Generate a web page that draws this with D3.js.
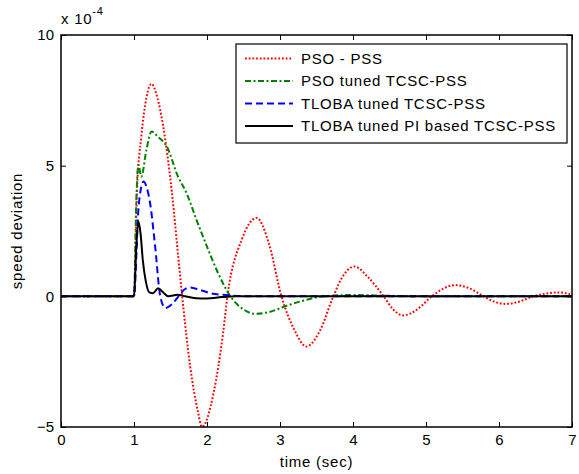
<!DOCTYPE html>
<html>
<head>
<meta charset="utf-8">
<script src="https://cdn.jsdelivr.net/npm/d3@7"></script>
<style>
  body { margin: 0; background: #fff; }
  text { font-family: "Liberation Sans", Arial, sans-serif; }
</style>
</head>
<body>
<div id="chart"></div>
<script>
// values are in units of 1e-4 (see the "x 10^-4" multiplier)
const xTicks = [0, 1, 2, 3, 4, 5, 6, 7]
const yTicks = [-5, 0, 5, 10]

const psoT = [0, 1.0, 1.04, 1.1, 1.17, 1.24, 1.32, 1.4, 1.52, 1.61, 1.66, 1.77, 1.88, 1.93, 2.09, 2.22, 2.28, 2.48, 2.68, 2.85, 3.02, 3.2, 3.36, 3.55, 3.73, 3.88, 4.02, 4.2, 4.42, 4.55, 4.69, 4.88, 5.08, 5.24, 5.4, 5.6, 5.79, 5.93, 6.08, 6.28, 6.47, 6.64, 6.81, 7.0]
const psoV = [0, 0, 4.0, 6.1, 7.6, 8.13, 7.6, 6.5, 3.95, 1.4, 0, -2.69, -4.47, -5.0, -3.7, -1.41, 0, 2.2, 3.0, 2.0, 0, -1.3, -1.92, -1.3, 0, 0.85, 1.14, 0.75, 0, -0.5, -0.73, -0.5, 0, 0.3, 0.43, 0.3, 0, -0.2, -0.29, -0.2, 0, 0.1, 0.15, 0.07]

const psoTcscT = [0, 1.0, 1.03, 1.06, 1.1, 1.17, 1.24, 1.33, 1.45, 1.6, 1.72, 1.86, 2.0, 2.15, 2.32, 2.5, 2.66, 2.85, 3.1, 3.3, 3.6, 4.0, 4.5, 5.0, 7.0]
const psoTcscV = [0, 0, 3.5, 5.03, 4.58, 5.6, 6.31, 6.1, 5.73, 4.6, 3.95, 2.9, 1.9, 0.9, 0, -0.5, -0.67, -0.6, -0.35, -0.18, 0, 0.05, 0.02, 0, 0]

const tlobaT = [0, 1.0, 1.06, 1.1, 1.13, 1.17, 1.22, 1.29, 1.36, 1.43, 1.52, 1.61, 1.7, 1.77, 1.9, 2.05, 2.3, 2.6, 7.0]
const tlobaV = [0, 0, 3.3, 4.2, 4.39, 4.2, 3.57, 1.9, 0, -0.45, -0.3, 0, 0.28, 0.34, 0.25, 0.12, 0.04, 0, 0]

const tlobaPiT = [0, 1.0, 1.03, 1.06, 1.09, 1.12, 1.16, 1.21, 1.26, 1.33, 1.4, 1.47, 1.6, 1.7, 1.85, 2.0, 2.2, 2.4, 7.0]
const tlobaPiV = [0, 0, 1.8, 2.86, 2.4, 1.4, 0.6, 0.15, 0.12, 0.31, 0.15, 0, 0.06, 0, -0.07, -0.08, -0.03, 0, 0]

const seriesNames = ["PSO - PSS", "PSO tuned TCSC-PSS", "TLOBA tuned TCSC-PSS", "TLOBA tuned PI based TCSC-PSS"]
const seriesColors = ["#ff0000", "#008000", "#0000ff", "#000000"]
const seriesDash = ["1.8,1.9", "6,2.5,2,2.5", "7,4", null]

const series = [
  { t: psoT, v: psoV },
  { t: psoTcscT, v: psoTcscV },
  { t: tlobaT, v: tlobaV },
  { t: tlobaPiT, v: tlobaPiV }
].map((s, i) => ({
  name: seriesNames[i],
  color: seriesColors[i],
  dash: seriesDash[i],
  points: s.t.map((t, j) => ({ t: t, v: s.v[j] }))
}))

const margin = { top: 35, right: 7, bottom: 47, left: 61 }
const W = 579, H = 474
const width = W - margin.left - margin.right
const height = H - margin.top - margin.bottom

const x = d3.scaleLinear().domain([0, 7]).range([0, width])
const y = d3.scaleLinear().domain([-5, 10]).range([height, 0])

const svg = d3.select("#chart").append("svg")
  .attr("width", W)
  .attr("height", H)

const g = svg.append("g")
  .attr("transform", "translate(" + margin.left + "," + margin.top + ")")

g.append("clipPath").attr("id", "clip")
  .append("rect").attr("width", width).attr("height", height + 1).attr("y", -1)

const fontSize = 15
const spacing = "0.75px"

function styleAxis(sel, labels) {
  sel.select(".domain").remove()
  sel.selectAll(".tick line").attr("stroke", "#000").attr("stroke-width", 1)
  sel.selectAll(".tick text")
    .attr("fill", "#000")
    .style("font-size", fontSize + "px")
  if (!labels) sel.selectAll(".tick text").remove()
}

g.append("g")
  .attr("transform", "translate(0," + height + ")")
  .call(d3.axisBottom(x).tickValues(xTicks).tickSizeInner(-5).tickSizeOuter(0).tickPadding(7).tickFormat(d3.format("d")))
  .call(s => styleAxis(s, true))

g.append("g")
  .call(d3.axisTop(x).tickValues(xTicks).tickSizeInner(-5).tickSizeOuter(0))
  .call(s => styleAxis(s, false))

g.append("g")
  .call(d3.axisLeft(y).tickValues(yTicks).tickSizeInner(-5).tickSizeOuter(0).tickPadding(7).tickFormat(d3.format("d")))
  .call(s => styleAxis(s, true))

g.append("g")
  .attr("transform", "translate(" + width + ",0)")
  .call(d3.axisRight(y).tickValues(yTicks).tickSizeInner(-5).tickSizeOuter(0))
  .call(s => styleAxis(s, false))

const line = d3.line()
  .curve(d3.curveMonotoneX)
  .x(d => x(d.t))
  .y(d => y(d.v))

g.append("g").attr("clip-path", "url(#clip)")
  .selectAll("path")
  .data(series)
  .join("path")
    .attr("fill", "none")
    .attr("stroke", d => d.color)
    .attr("stroke-width", 2)
    .attr("stroke-dasharray", d => d.dash)
    .attr("d", d => line(d.points))

// axes box
g.append("rect")
  .attr("width", width)
  .attr("height", height)
  .attr("fill", "none")
  .attr("stroke", "#000")
  .attr("stroke-width", 1.5)

// multiplier
const mult = svg.append("text")
  .attr("x", margin.left)
  .attr("y", 24)
  .style("font-size", fontSize + "px")
  .style("letter-spacing", spacing)
mult.append("tspan").text("x 10")
mult.append("tspan").attr("dy", -9).style("font-size", "11px").text("-4")

// axis labels
svg.append("text")
  .attr("x", margin.left + width / 2)
  .attr("y", 467)
  .attr("text-anchor", "middle")
  .style("font-size", fontSize + "px")
  .style("letter-spacing", spacing)
  .text("time (sec)")

svg.append("text")
  .attr("transform", "translate(22," + (margin.top + height / 2) + ") rotate(-90)")
  .attr("text-anchor", "middle")
  .style("font-size", fontSize + "px")
  .style("letter-spacing", spacing)
  .text("speed deviation")

// legend
const legend = svg.append("g").attr("transform", "translate(236,44)")
legend.append("rect")
  .attr("width", 331)
  .attr("height", 99)
  .attr("fill", "#fff")
  .attr("stroke", "#000")
  .attr("stroke-width", 1.2)

const rowY = d3.scaleLinear().domain([0, 3]).range([14.5, 82])

const rows = legend.selectAll("g.row")
  .data(series)
  .join("g")
    .attr("class", "row")
    .attr("transform", (d, i) => "translate(0," + rowY(i) + ")")

rows.append("line")
  .attr("x1", 9).attr("x2", 57)
  .attr("stroke", d => d.color)
  .attr("stroke-width", 2)
  .attr("stroke-dasharray", d => d.dash)

rows.append("text")
  .attr("x", 65)
  .attr("dy", "0.35em")
  .style("font-size", fontSize + "px")
  .style("letter-spacing", spacing)
  .text(d => d.name)
</script>
</body>
</html>
